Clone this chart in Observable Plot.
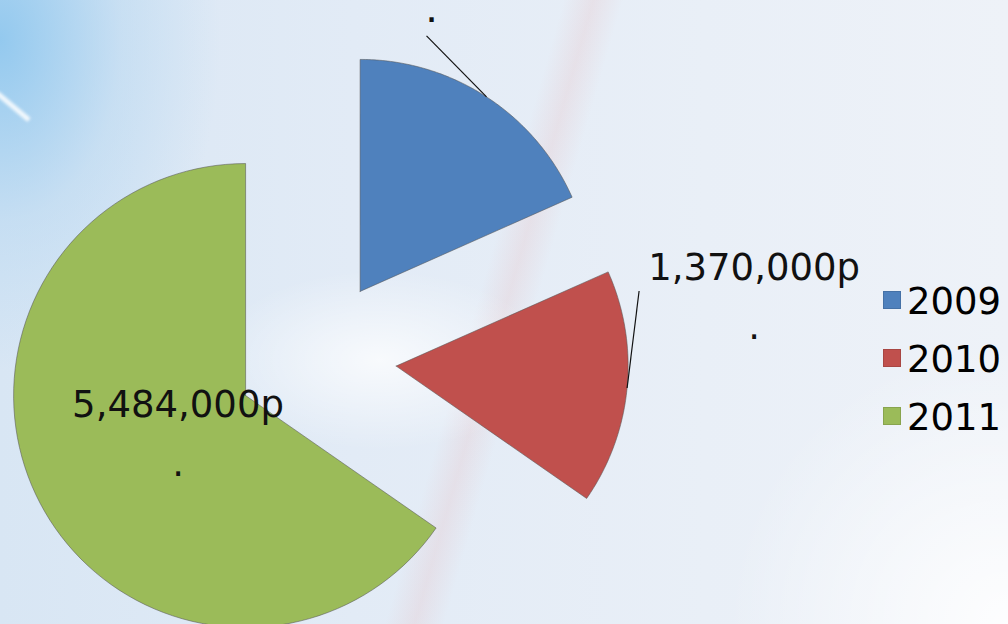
<!DOCTYPE html>
<html>
<head>
<meta charset="utf-8">
<script src="https://cdn.jsdelivr.net/npm/d3@7"></script>
<script src="https://cdn.jsdelivr.net/npm/@observablehq/plot@0.6"></script>
<style>
html, body { margin: 0; padding: 0; }
#wrap {
  position: relative; width: 1008px; height: 624px; overflow: hidden;
  font-family: "DejaVu Sans", sans-serif;
  background:
    radial-gradient(ellipse 220px 330px at 0px 40px, rgba(140,198,238,0.9), rgba(170,210,240,0.4) 55%, rgba(200,225,245,0) 100%),
    radial-gradient(ellipse 170px 90px at 380px 360px, rgba(255,255,255,0.75), rgba(255,255,255,0) 100%),
    radial-gradient(ellipse 280px 280px at 1008px 624px, rgba(255,255,255,0.9), rgba(255,255,255,0) 100%),
    linear-gradient(106deg, rgba(230,150,150,0) 47.5%, rgba(232,160,160,0.16) 50%, rgba(230,150,150,0) 52.5%),
    linear-gradient(90deg, #d8e6f4 0%, #e2ebf6 35%, #e9eff7 70%, #eef2f8 100%);
}
#streak { position: absolute; left: -8px; top: 104px; width: 42px; height: 5px; background: #fff; opacity: 0.85; transform: rotate(40deg); filter: blur(1.5px); }
#chart { position: absolute; left: 0; top: 0; }
#legend { position: absolute; left: 883px; top: 273px; }
.item { display: flex; align-items: center; height: 58px; line-height: 58px; font-size: 37px; color: #000; }
.sw { width: 18px; height: 18px; margin-right: 6px; box-sizing: border-box; border: 1px solid rgba(0,0,0,0.12); transform: translateY(-2px); }
</style>
</head>
<body>
<div id="wrap"><div id="streak"></div><div id="chart"></div><div id="legend"></div></div>
<script>
// ---- data ----
const years = ["2009", "2010", "2011"];
const values = [1540000, 1370000, 5484000];
const colors = ["#4F81BD", "#C0504D", "#9BBB59"];

// ---- layout (not data) ----
const W = 1008, H = 624;
const pieLayout = { cx: 316, cy: 358, r: 232, explode: 80 };
const fontSize = 37, lineHeight = 1.6, loneDotSize = 24;
const labelDx = [-55, 127, 138];
const labelDy = [-75, -49, -27];
const leaderDx = [-60, 12, null];
const leaderDy = [-61, -97, null];

const rows = years.map((y, i) => ({ year: y, value: values[i] }));
const arcs = d3.pie().sort(null).value(d => d.value)(rows);
const fmt = d3.format(",");

const pts = [];
const labels = [];
const leaders = [];
arcs.forEach((a, i) => {
  const mid = (a.startAngle + a.endAngle) / 2;
  const ox = pieLayout.cx + pieLayout.explode * Math.sin(mid);
  const oy = pieLayout.cy - pieLayout.explode * Math.cos(mid);
  const year = a.data.year;
  pts.push({ year, x: ox, y: oy });
  const N = 96;
  for (let k = 0; k <= N; k++) {
    const t = a.startAngle + (a.endAngle - a.startAngle) * k / N;
    pts.push({ year, x: ox + pieLayout.r * Math.sin(t), y: oy - pieLayout.r * Math.cos(t) });
  }
  pts.push({ year, x: ox, y: oy });
  const mx = ox + pieLayout.r * Math.sin(mid);
  const my = oy - pieLayout.r * Math.cos(mid);
  const ly = my + labelDy[i];
  // the value line of a label that sits above the picture's top edge is not visible in the picture
  const valueVisible = ly - fontSize * lineHeight > 0;
  labels.push({
    year, x: mx + labelDx[i], y: ly,
    text: (valueVisible ? fmt(a.data.value) + "p\n" : "") + ".",
    size: valueVisible ? fontSize : loneDotSize
  });
  if (leaderDx[i] != null) {
    leaders.push({ year, x1: mx, y1: my, x2: mx + leaderDx[i], y2: my + leaderDy[i] });
  }
});

const chart = Plot.plot({
  width: W, height: H, margin: 0,
  x: { domain: [0, W], range: [0, W], axis: null },
  y: { domain: [0, H], range: [0, H], axis: null },
  color: { domain: years, range: colors },
  style: { background: "transparent", overflow: "hidden" },
  marks: [
    Plot.line(pts, { x: "x", y: "y", z: "year", fill: "year", stroke: "#555", strokeOpacity: 0.55, strokeWidth: 1, curve: "linear" }),
    Plot.link(leaders, { x1: "x1", y1: "y1", x2: "x2", y2: "y2", stroke: "#111", strokeWidth: 1.2 }),
    Plot.text(labels, { x: "x", y: "y", text: "text", fontSize: d => d.size, fontFamily: "DejaVu Sans", fontWeight: "bold", lineAnchor: "bottom", lineHeight, fill: "#111", textAnchor: "middle", filter: d => d.size !== fontSize }),
    Plot.text(labels, { x: "x", y: "y", text: "text", fontSize, fontFamily: "DejaVu Sans", lineAnchor: "bottom", lineHeight, fill: "#111", textAnchor: "middle", filter: d => d.size === fontSize })
  ]
});
document.getElementById("chart").appendChild(chart);

const legend = document.getElementById("legend");
years.forEach((y, i) => {
  const item = document.createElement("div");
  item.className = "item";
  const sw = document.createElement("span");
  sw.className = "sw";
  sw.style.background = colors[i];
  const t = document.createElement("span");
  t.textContent = y;
  item.appendChild(sw);
  item.appendChild(t);
  legend.appendChild(item);
});
</script>
</body>
</html>
